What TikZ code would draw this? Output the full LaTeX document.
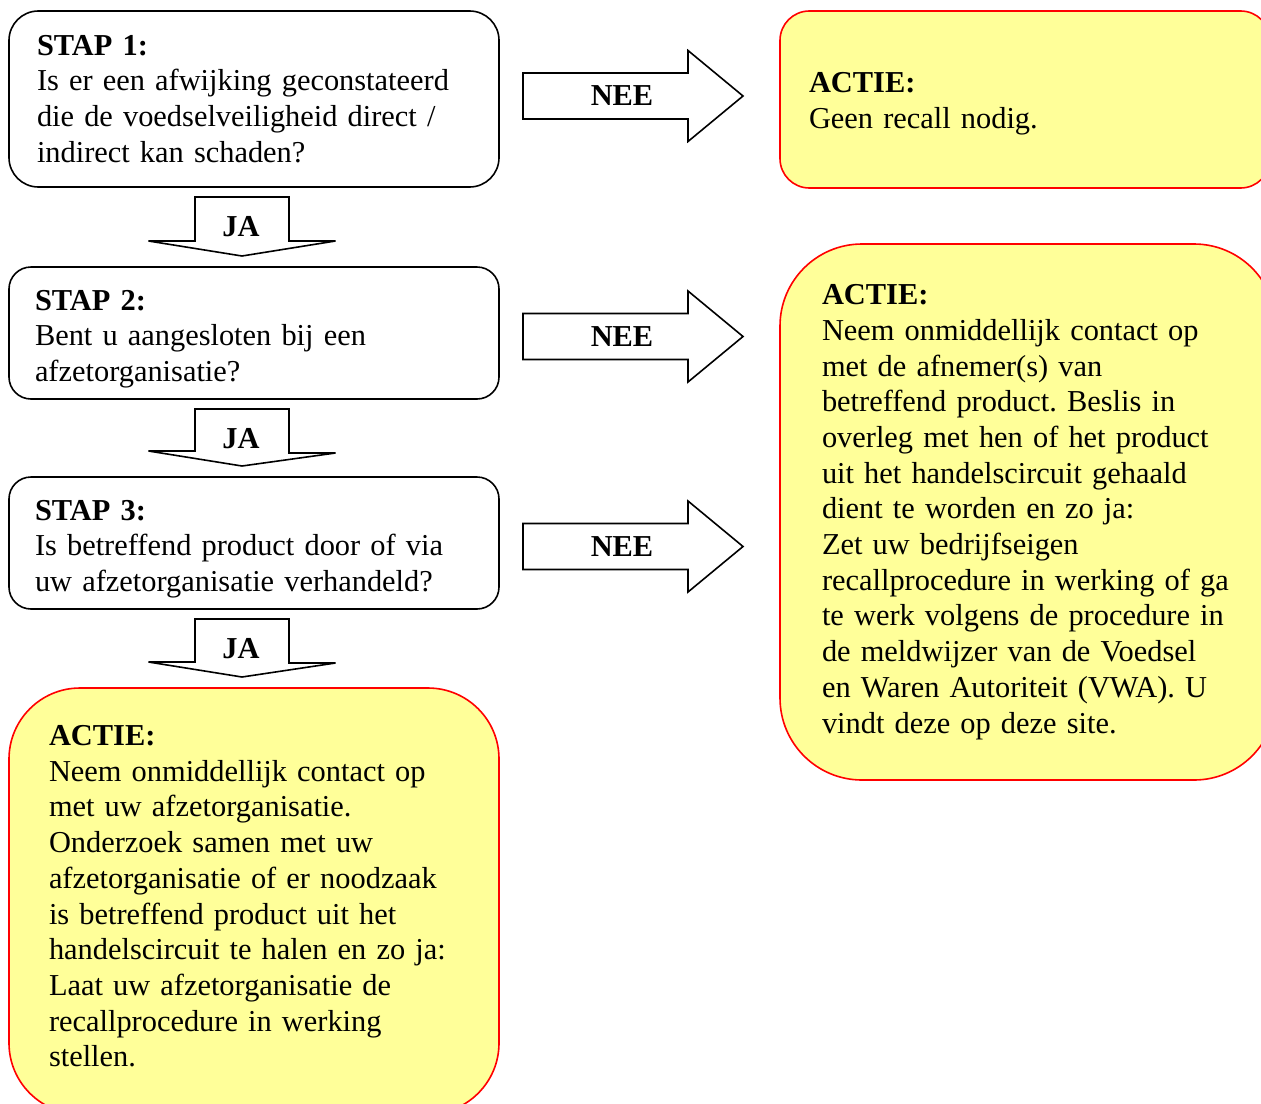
\documentclass[tikz,border=0pt]{standalone}
\usepackage{fontspec}
\setmainfont{Liberation Serif}
\usetikzlibrary{positioning, calc}
\definecolor{actiegeel}{HTML}{FFFF99}
\frenchspacing

\begin{document}
\begin{tikzpicture}[font=\fontsize{15.2}{17.85}\selectfont,
            stap/.style={draw, line width=0.8pt, outer sep=0pt, rounded corners=11pt, align=left,
              text width=219pt, inner xsep=13pt, minimum height=66pt},
            actie/.style={stap, draw=red, fill=actiegeel},
            blok/.style={draw, line width=0.8pt, fill=white}]
  \useasboundingbox (0,0) rectangle (630.5pt,-551.5pt);
  \clip (0,0) rectangle (630.5pt,-551.5pt);

  % linker kolom
  \node[stap, anchor=north west, rounded corners=14.7pt, minimum height=88pt,
        text width=217pt, inner xsep=14pt] (stap1) at (4.5pt,-5.5pt)
        {\textbf{STAP 1:}\\ Is er een afwijking geconstateerd\\ die de voedselveiligheid direct /\\ indirect kan schaden?};
  \node[stap, below=40pt of stap1.south west, anchor=north west] (stap2)
        {\rule{0pt}{16pt}\textbf{STAP 2:}\\ Bent u aangesloten bij een\\ afzetorganisatie?};
  \node[stap, below=39pt of stap2.south west, anchor=north west] (stap3)
        {\rule{0pt}{16pt}\textbf{STAP 3:}\\ Is betreffend product door of via\\ uw afzetorganisatie verhandeld?};
  \node[actie, below=39.5pt of stap3.south west, anchor=north west, rounded corners=35.5pt,
        minimum height=213pt, text width=205pt, inner xsep=20pt] (actie3)
        {\textbf{ACTIE:}\\ Neem onmiddellijk contact op\\ met uw afzetorganisatie.\\ Onderzoek samen met uw\\
         afzetorganisatie of er noodzaak\\ is betreffend product uit het\\ handelscircuit te halen en zo ja:\\
         Laat uw afzetorganisatie de\\ recallprocedure in werking\\ stellen.\\[-13pt]\mbox{}};

  % rechter kolom
  \node[actie, right=140.5pt of stap1.north east, anchor=north west, rounded corners=14.7pt,
        minimum height=88.5pt, text width=216pt, inner xsep=14.5pt] (actie1)
        {\rule{0pt}{14pt}\textbf{ACTIE:}\\ Geen recall nodig.};
  \node[actie, below=28pt of actie1.south west, anchor=north west, rounded corners=41pt,
        minimum height=268pt, text width=206pt, inner xsep=21pt] (actie2)
        {\textbf{ACTIE:}\\ Neem onmiddellijk contact op\\ met de afnemer(s) van\\ betreffend product. Beslis in\\
         overleg met hen of het product\\ uit het handelscircuit gehaald\\ dient te worden en zo ja:\\
         Zet uw bedrijfseigen\\ recallprocedure in werking of ga\\ te werk volgens de procedure in\\
         de meldwijzer van de Voedsel\\ en Waren Autoriteit (VWA). U\\ vindt deze op deze site.};

  % JA pijlen
  \foreach \a/\b/\n in {stap1/stap2/ja1, stap2/stap3/ja2, stap3/actie3/ja3} {
    \draw[blok] ($(\a.south west)+(93pt,-5pt)$) -- ++(47pt,0) -- ++(0,-22pt) -- ++(23.25pt,0)
      -- ($(\b.north west)+(116.5pt,5.5pt)$) -- ++(-46.75pt,7.5pt) -- ++(23.25pt,0) -- cycle;
    \node (\n) at ($(\a.south west)+(116pt,-20pt)$) {\textbf{JA}};
  }

  % NEE pijlen
  \foreach \a/\n/\dy in {stap1/nee1/1.5pt, stap2/nee2/-1.75pt, stap3/nee3/-1.75pt} {
    \draw[blok] ($(\a.east)+(12pt,11.5pt+\dy)$) -- ++(82.5pt,0) -- ++(0,11.25pt) -- ++(27.5pt,-22.75pt)
      -- ++(-27.5pt,-22.75pt) -- ++(0,11.25pt) -- ++(-82.5pt,0) -- cycle;
    \node (\n) at ($(\a.east)+(61.5pt,\dy)$) {\textbf{NEE}};
  }
\end{tikzpicture}
\end{document}
